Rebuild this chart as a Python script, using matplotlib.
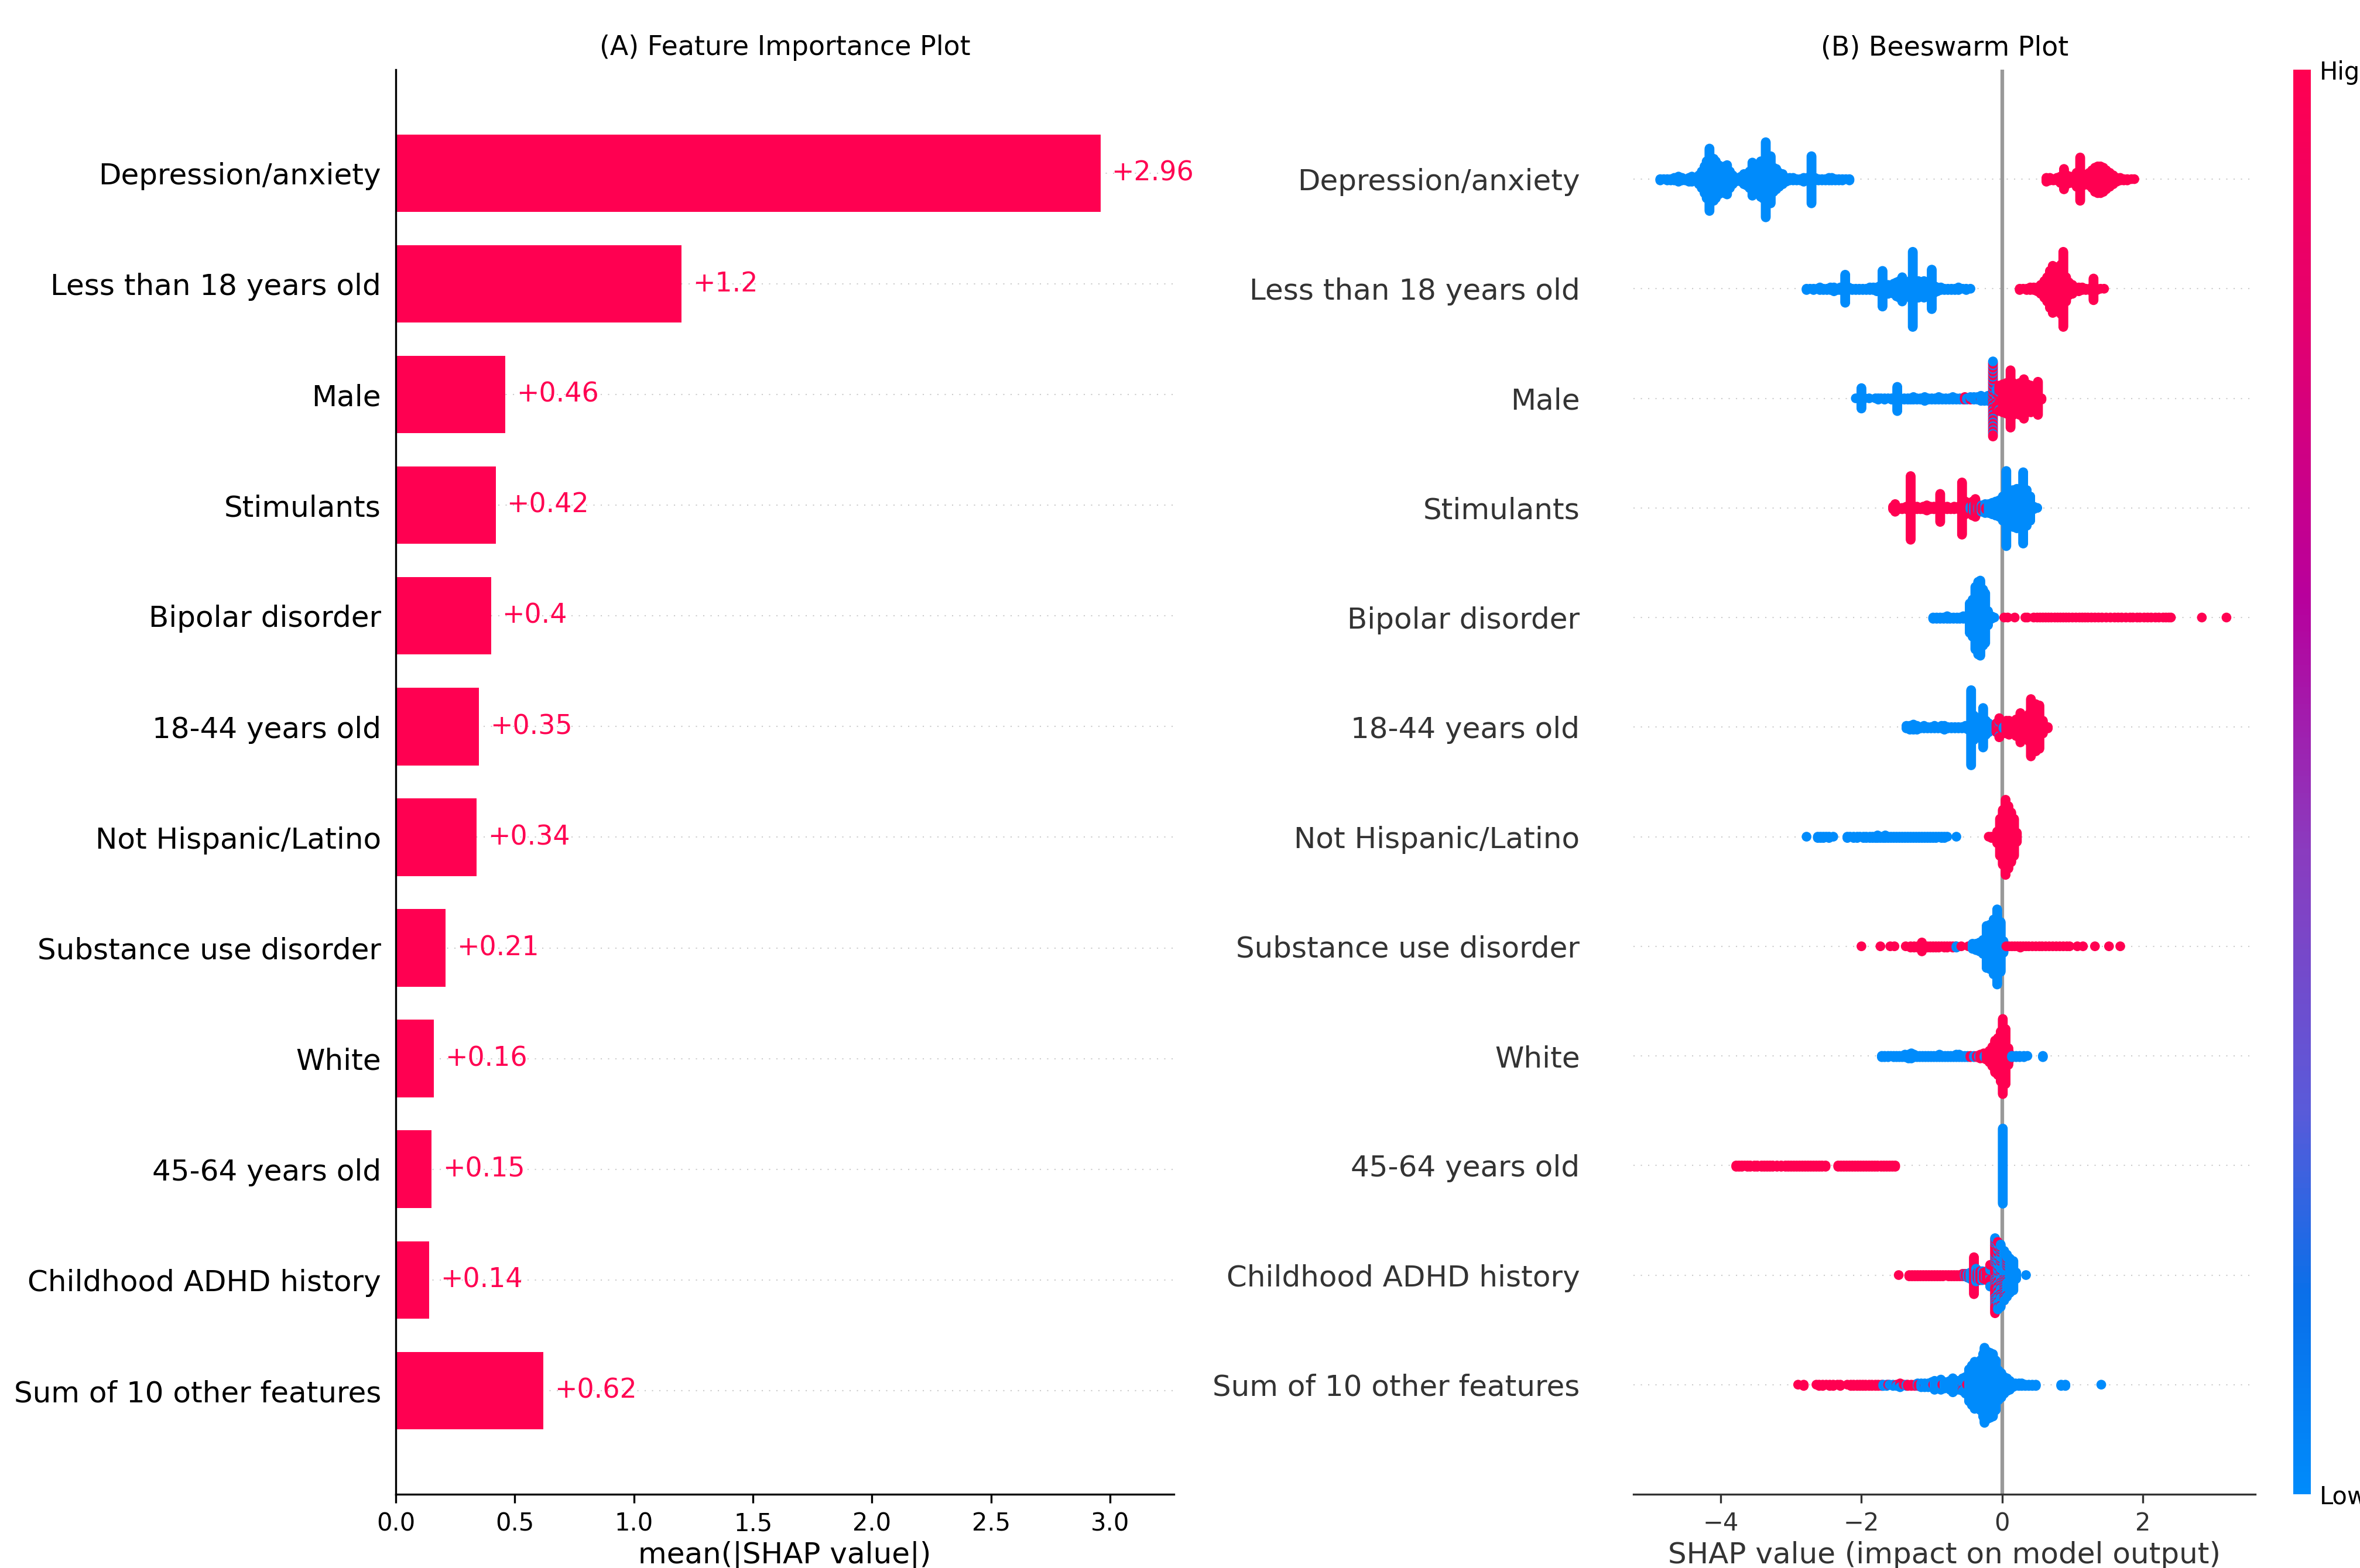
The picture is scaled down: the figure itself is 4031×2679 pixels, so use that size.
import numpy as np
import matplotlib
matplotlib.use("Agg")
import matplotlib.pyplot as plt
from matplotlib.colors import LinearSegmentedColormap, Normalize
from matplotlib.colorbar import ColorbarBase

# ---- data ----
features = ["Depression/anxiety", "Less than 18 years old", "Male", "Stimulants",
            "Bipolar disorder", "18-44 years old", "Not Hispanic/Latino",
            "Substance use disorder", "White", "45-64 years old",
            "Childhood ADHD history", "Sum of 10 other features"]
mean_abs_shap = [2.96, 1.2, 0.46, 0.42, 0.4, 0.35, 0.34, 0.21, 0.16, 0.15, 0.14, 0.62]

# beeswarm columns: (SHAP value, number of stacked points); _hi = high feature value, _lo = low
dep_lo = [(-4.86, 2), (-4.81, 1), (-4.76, 2), (-4.71, 2), (-4.66, 3), (-4.60, 5), (-4.55, 3), (-4.50, 2),
          (-4.45, 4), (-4.41, 5), (-4.36, 3), (-4.31, 8), (-4.27, 14), (-4.23, 22), (-4.20, 30), (-4.16, 50),
          (-4.13, 28), (-4.10, 34), (-4.07, 30), (-4.03, 24), (-3.99, 20), (-3.95, 22), (-3.91, 24), (-3.87, 14),
          (-3.83, 8), (-3.79, 4), (-3.75, 3), (-3.71, 5), (-3.67, 9), (-3.63, 10), (-3.59, 14), (-3.55, 27),
          (-3.51, 18), (-3.47, 22), (-3.43, 29), (-3.40, 30), (-3.36, 60), (-3.32, 34), (-3.29, 38), (-3.25, 20),
          (-3.21, 17), (-3.17, 12), (-3.12, 9), (-3.07, 4), (-3.02, 3), (-2.97, 3), (-2.92, 2), (-2.87, 2),
          (-2.82, 4), (-2.77, 3), (-2.71, 38), (-2.66, 3), (-2.61, 2), (-2.56, 2), (-2.51, 2), (-2.46, 3),
          (-2.42, 3), (-2.37, 2), (-2.32, 2), (-2.27, 2), (-2.22, 1), (-2.17, 2)]
dep_hi = [(0.63, 4), (0.68, 3), (0.73, 2), (0.78, 3), (0.83, 6), (0.88, 17), (0.92, 8), (0.97, 6), (1.02, 5),
          (1.06, 12), (1.11, 35), (1.15, 10), (1.19, 8), (1.24, 11), (1.28, 15), (1.32, 20), (1.36, 22),
          (1.40, 22), (1.44, 20), (1.48, 16), (1.53, 12), (1.58, 8), (1.63, 4), (1.68, 3), (1.73, 2),
          (1.78, 2), (1.84, 1), (1.88, 1)]

u18_lo = [(-2.78, 2), (-2.73, 1), (-2.68, 2), (-2.63, 1), (-2.59, 3), (-2.54, 2), (-2.49, 2), (-2.44, 3),
          (-2.39, 4), (-2.34, 2), (-2.30, 3), (-2.23, 23), (-2.18, 3), (-2.13, 2), (-2.08, 2), (-2.03, 2),
          (-1.98, 2), (-1.93, 2), (-1.88, 3), (-1.83, 3), (-1.78, 4), (-1.74, 5), (-1.70, 29), (-1.66, 8),
          (-1.62, 8), (-1.58, 6), (-1.54, 9), (-1.50, 12), (-1.46, 14), (-1.42, 20), (-1.38, 12), (-1.34, 10),
          (-1.31, 14), (-1.27, 60), (-1.23, 14), (-1.19, 14), (-1.15, 12), (-1.11, 14), (-1.07, 12), (-1.03, 10),
          (-1.00, 32), (-0.96, 6), (-0.92, 4), (-0.87, 3), (-0.82, 2), (-0.77, 2), (-0.72, 2), (-0.67, 2),
          (-0.62, 3), (-0.56, 1), (-0.51, 2), (-0.45, 1)]
u18_hi = [(0.25, 2), (0.30, 1), (0.35, 2), (0.40, 3), (0.45, 3), (0.50, 4), (0.55, 8), (0.60, 14), (0.64, 20),
          (0.68, 30), (0.72, 38), (0.76, 36), (0.80, 30), (0.84, 40), (0.87, 60), (0.91, 20), (0.95, 11),
          (1.00, 8), (1.04, 4), (1.09, 4), (1.14, 3), (1.19, 2), (1.24, 2), (1.30, 18), (1.35, 2), (1.40, 1),
          (1.45, 1)]

male_lo = [(-2.08, 1), (-2.00, 17), (-1.95, 1), (-1.89, 1), (-1.80, 1), (-1.76, 2), (-1.72, 1), (-1.67, 2),
           (-1.62, 1), (-1.57, 2), (-1.49, 20), (-1.44, 2), (-1.39, 2), (-1.34, 2), (-1.30, 2), (-1.26, 3),
           (-1.21, 2), (-1.16, 2), (-1.10, 4), (-1.05, 2), (-1.00, 2), (-0.95, 2), (-0.90, 3), (-0.85, 2),
           (-0.80, 2), (-0.75, 2), (-0.70, 3), (-0.65, 2), (-0.60, 2), (-0.55, 2), (-0.50, 2), (-0.45, 2),
           (-0.40, 3), (-0.35, 3), (-0.30, 4), (-0.25, 4), (-0.20, 5), (-0.13, 20), (-0.08, 6), (-0.04, 3)]
male_hi = [(-0.53, 3), (-0.45, 1), (-0.30, 1), (-0.13, 40), (-0.08, 10), (-0.04, 18), (0.01, 23), (0.06, 25),
           (0.12, 46), (0.16, 26), (0.20, 24), (0.25, 26), (0.31, 32), (0.36, 23), (0.41, 22), (0.46, 18),
           (0.51, 27), (0.56, 2)]

stim_hi = [(-1.55, 3), (-1.52, 7), (-1.47, 2), (-1.42, 2), (-1.36, 3), (-1.30, 51), (-1.25, 3), (-1.21, 3),
           (-1.16, 2), (-1.12, 3), (-1.07, 5), (-1.02, 3), (-0.97, 3), (-0.92, 3), (-0.88, 23), (-0.83, 3),
           (-0.78, 3), (-0.73, 2), (-0.68, 3), (-0.62, 3), (-0.57, 42), (-0.52, 11), (-0.47, 8), (-0.42, 12),
           (-0.38, 15), (-0.33, 6), (-0.28, 4), (-0.23, 2)]
stim_lo = [(-0.45, 3), (-0.40, 6), (-0.34, 4), (-0.29, 6), (-0.24, 8), (-0.19, 8), (-0.14, 10), (-0.09, 12),
           (-0.04, 14), (0.01, 20), (0.06, 60), (0.11, 29), (0.16, 30), (0.21, 32), (0.25, 30), (0.30, 57),
           (0.35, 29), (0.40, 20), (0.45, 3), (0.50, 1)]

bip_lo = [(-0.98, 2), (-0.93, 2), (-0.88, 2), (-0.83, 2), (-0.78, 3), (-0.74, 2), (-0.69, 2), (-0.64, 2),
          (-0.60, 2), (-0.55, 3), (-0.51, 3), (-0.46, 24), (-0.42, 30), (-0.38, 50), (-0.34, 58), (-0.31, 60),
          (-0.27, 45), (-0.24, 40), (-0.20, 12), (-0.15, 3), (-0.11, 1)]
bip_hi = [(0.03, 1), (0.08, 1), (0.18, 1), (0.33, 1), (0.36, 1), (0.45, 1), (0.50, 1), (0.54, 1), (0.58, 1),
          (0.62, 1), (0.66, 1), (0.70, 1), (0.75, 1), (0.79, 1), (0.83, 1), (0.87, 1), (0.91, 1), (0.95, 1),
          (1.00, 1), (1.05, 1), (1.10, 1), (1.14, 1), (1.18, 1), (1.22, 1), (1.27, 1), (1.32, 1), (1.37, 1),
          (1.42, 1), (1.48, 1), (1.54, 1), (1.60, 1), (1.65, 1), (1.70, 1), (1.76, 1), (1.82, 1), (1.86, 1),
          (1.92, 1), (1.96, 1), (2.02, 1), (2.07, 1), (2.12, 1), (2.18, 1), (2.23, 1), (2.29, 1), (2.33, 1),
          (2.37, 1), (2.40, 1), (2.84, 1), (3.19, 1)]

a1844_lo = [(-1.36, 3), (-1.31, 4), (-1.26, 5), (-1.21, 4), (-1.16, 2), (-1.11, 3), (-1.06, 2), (-1.01, 2),
            (-0.96, 3), (-0.91, 2), (-0.86, 3), (-0.82, 4), (-0.77, 2), (-0.72, 2), (-0.67, 2), (-0.62, 2),
            (-0.57, 2), (-0.52, 3), (-0.48, 4), (-0.44, 60), (-0.40, 20), (-0.36, 12), (-0.31, 14), (-0.27, 32),
            (-0.23, 12), (-0.19, 8), (-0.14, 4), (-0.09, 3), (-0.04, 3), (0.02, 2)]
a1844_hi = [(-0.08, 8), (-0.04, 13), (0.01, 10), (0.06, 11), (0.10, 12), (0.15, 10), (0.20, 14), (0.26, 24),
            (0.30, 18), (0.34, 17), (0.38, 22), (0.41, 46), (0.45, 36), (0.48, 38), (0.53, 35), (0.58, 11),
            (0.65, 2)]

nh_lo = [(-2.78, 1), (-2.62, 2), (-2.58, 2), (-2.54, 2), (-2.50, 1), (-2.46, 2), (-2.40, 1), (-2.20, 2),
         (-2.16, 1), (-2.11, 2), (-2.06, 2), (-2.02, 1), (-1.97, 2), (-1.93, 2), (-1.88, 2), (-1.84, 2),
         (-1.80, 2), (-1.77, 3), (-1.73, 2), (-1.69, 2), (-1.66, 3), (-1.62, 2), (-1.58, 2), (-1.54, 2),
         (-1.50, 2), (-1.46, 2), (-1.42, 2), (-1.38, 2), (-1.34, 2), (-1.30, 2), (-1.26, 2), (-1.22, 2),
         (-1.18, 2), (-1.14, 2), (-1.10, 2), (-1.06, 2), (-1.02, 2), (-0.98, 2), (-0.94, 2), (-0.90, 1),
         (-0.86, 2), (-0.82, 2), (-0.78, 1), (-0.65, 1)]
nh_hi = [(-0.19, 1), (-0.15, 2), (-0.11, 2), (-0.07, 10), (-0.03, 30), (0.01, 44), (0.05, 60), (0.09, 50),
         (0.13, 40), (0.17, 30), (0.21, 8)]

sud_hi = [(-2.00, 1), (-1.73, 1), (-1.59, 1), (-1.53, 1), (-1.37, 1), (-1.30, 2), (-1.25, 2), (-1.20, 2),
          (-1.14, 8), (-1.10, 2), (-1.06, 2), (-1.02, 2), (-0.98, 2), (-0.94, 2), (-0.90, 2), (-0.86, 1),
          (-0.82, 2), (-0.78, 2), (-0.74, 1), (-0.70, 2), (-0.66, 1), (-0.58, 1), (-0.48, 1), (0.06, 1),
          (0.10, 1), (0.14, 1), (0.18, 1), (0.22, 1), (0.26, 2), (0.30, 1), (0.34, 1), (0.38, 1), (0.43, 1),
          (0.48, 1), (0.53, 1), (0.57, 1), (0.62, 1), (0.67, 1), (0.72, 1), (0.77, 1), (0.82, 1), (0.87, 1),
          (0.92, 1), (0.96, 1), (1.07, 1), (1.15, 1), (1.32, 1), (1.52, 1), (1.68, 1)]
sud_lo = [(-0.65, 2), (-0.42, 5), (-0.37, 6), (-0.32, 8), (-0.27, 12), (-0.22, 34), (-0.17, 36), (-0.12, 44),
          (-0.07, 60), (-0.02, 40), (0.02, 10)]

white_lo = [(-1.71, 2), (-1.67, 2), (-1.62, 2), (-1.58, 1), (-1.54, 2), (-1.50, 2), (-1.46, 2), (-1.42, 2),
            (-1.38, 3), (-1.33, 4), (-1.29, 5), (-1.25, 3), (-1.21, 2), (-1.17, 2), (-1.13, 2), (-1.09, 2),
            (-1.05, 2), (-1.01, 2), (-0.97, 2), (-0.93, 2), (-0.89, 3), (-0.85, 2), (-0.81, 2), (-0.77, 2),
            (-0.73, 2), (-0.69, 2), (-0.65, 3), (-0.61, 3), (-0.57, 2), (-0.53, 2), (-0.49, 2), (-0.40, 2),
            (-0.33, 2), (-0.25, 2), (0.14, 2), (0.20, 2), (0.25, 2), (0.31, 2), (0.36, 1), (0.58, 2)]
white_hi = [(-0.45, 2), (-0.36, 2), (-0.31, 4), (-0.26, 5), (-0.22, 6), (-0.18, 10), (-0.14, 16), (-0.10, 26),
            (-0.06, 30), (-0.02, 40), (0.01, 60), (0.05, 44), (0.09, 14), (0.12, 4)]

a4564_hi = [(-3.78, 2), (-3.74, 2), (-3.70, 2), (-3.66, 1), (-3.62, 2), (-3.58, 2), (-3.52, 2), (-3.48, 2),
            (-3.42, 2), (-3.38, 2), (-3.34, 2), (-3.30, 2), (-3.26, 2), (-3.20, 2), (-3.14, 2), (-3.08, 2),
            (-3.04, 2), (-3.00, 2), (-2.96, 2), (-2.92, 2), (-2.88, 2), (-2.84, 2), (-2.80, 2), (-2.76, 2),
            (-2.72, 2), (-2.68, 2), (-2.64, 2), (-2.60, 2), (-2.56, 2), (-2.51, 2), (-2.33, 2), (-2.29, 2),
            (-2.25, 2), (-2.21, 2), (-2.17, 2), (-2.13, 2), (-2.09, 2), (-2.05, 2), (-2.01, 2), (-1.97, 2),
            (-1.93, 2), (-1.89, 2), (-1.85, 2), (-1.81, 2), (-1.77, 2), (-1.72, 2), (-1.68, 2), (-1.64, 2),
            (-1.60, 2), (-1.56, 2), (-1.52, 2)]
a4564_lo = [(0.01, 60)]

adhd_hi = [(-1.47, 1), (-1.32, 2), (-1.28, 2), (-1.24, 2), (-1.20, 2), (-1.16, 2), (-1.12, 2), (-1.08, 2),
           (-1.04, 2), (-1.00, 2), (-0.96, 2), (-0.92, 2), (-0.88, 2), (-0.84, 2), (-0.80, 1), (-0.76, 2),
           (-0.72, 2), (-0.68, 2), (-0.64, 2), (-0.60, 2), (-0.56, 3), (-0.52, 3), (-0.47, 4), (-0.40, 30),
           (-0.35, 6), (-0.31, 8), (-0.26, 6), (-0.22, 8), (-0.17, 10), (-0.10, 44), (-0.06, 20), (-0.02, 14),
           (0.03, 10), (0.07, 8)]
adhd_lo = [(-0.53, 3), (-0.49, 4), (-0.45, 6), (-0.41, 8), (-0.37, 11), (-0.33, 8), (-0.28, 8), (-0.23, 6),
           (-0.17, 8), (-0.10, 16), (-0.06, 34), (-0.02, 36), (0.03, 30), (0.07, 26), (0.11, 28), (0.16, 24),
           (0.20, 6), (0.34, 1)]

other_hi = [(-2.90, 1), (-2.82, 2), (-2.64, 1), (-2.60, 2), (-2.55, 2), (-2.50, 1), (-2.45, 2), (-2.40, 2),
            (-2.34, 1), (-2.30, 2), (-2.20, 1), (-2.15, 2), (-2.11, 2), (-2.06, 2), (-2.02, 2), (-1.98, 2),
            (-1.94, 2), (-1.89, 2), (-1.85, 2), (-1.80, 2), (-1.76, 2), (-1.71, 2), (-1.62, 1), (-1.50, 1),
            (-1.45, 2), (-1.40, 1), (-1.34, 2), (-1.29, 2), (-1.24, 2), (-1.19, 2), (-1.10, 1), (-0.98, 1),
            (-0.85, 1), (-0.56, 2), (-0.50, 1)]
other_lo = [(-1.69, 2), (-1.64, 2), (-1.60, 1), (-1.55, 2), (-1.50, 1), (-1.45, 2), (-1.36, 2), (-1.20, 3),
            (-1.15, 4), (-1.10, 3), (-1.05, 4), (-1.00, 5), (-0.96, 8), (-0.91, 6), (-0.87, 9), (-0.82, 6),
            (-0.78, 5), (-0.74, 8), (-0.70, 12), (-0.65, 8), (-0.61, 8), (-0.56, 9), (-0.52, 14), (-0.47, 26),
            (-0.43, 32), (-0.39, 38), (-0.35, 36), (-0.31, 40), (-0.27, 50), (-0.25, 60), (-0.21, 54),
            (-0.17, 52), (-0.13, 50), (-0.09, 40), (-0.05, 24), (-0.01, 20), (0.03, 14), (0.07, 11), (0.11, 8),
            (0.15, 4), (0.19, 3), (0.24, 3), (0.28, 3), (0.33, 2), (0.38, 2), (0.43, 2), (0.48, 2), (0.84, 2),
            (0.90, 2), (1.41, 1)]

swarm_hi = [dep_hi, u18_hi, male_hi, stim_hi, bip_hi, a1844_hi, nh_hi, sud_hi, white_hi, a4564_hi, adhd_hi, other_hi]
swarm_lo = [dep_lo, u18_lo, male_lo, stim_lo, bip_lo, a1844_lo, nh_lo, sud_lo, white_lo, a4564_lo, adhd_lo, other_lo]

RED = "#ff0051"
cmap = LinearSegmentedColormap.from_list("red_blue", [
    (0.0, "#008bfb"), (0.14, "#0a6fe9"), (0.27, "#5a5ad9"), (0.45, "#8a3cbf"),
    (0.63, "#b8009c"), (0.82, "#e3006f"), (1.0, "#ff0051")])


def swarm_layout(hi, lo, row_height=0.4):
    # stack points of each column up/down like shap's beeswarm
    cols = {}
    for x, n in lo:
        cols.setdefault(x, [0, 0])[0] += n
    for x, n in hi:
        cols.setdefault(x, [0, 0])[1] += n
    xs, ys, vals = [], [], []
    for x in sorted(cols):
        n_lo, n_hi = cols[x]
        order = [((i + 0.5) / n_lo, 0.0) for i in range(n_lo)] + [((j + 0.25) / n_hi, 1.0) for j in range(n_hi)]
        order.sort()
        for layer, (_, v) in enumerate(order):
            xs.append(x)
            ys.append(np.ceil(layer / 2) * ((layer % 2) * 2 - 1))
            vals.append(v)
    ys = np.array(ys, dtype=float)
    ys *= 0.9 * (row_height / np.max(ys + 1))
    return np.array(xs), ys, np.array(vals)


W, H = 4031, 2679
fig = plt.figure(figsize=((W + 0.2) / 300, (H + 0.2) / 300), dpi=300)


def box(x0, y0, x1, y1):
    return [x0 / W, 1 - y1 / H, (x1 - x0) / W, (y1 - y0) / H]


# (A) bar plot
ax1 = fig.add_axes(box(676, 119, 2005, 2553))
rows = np.arange(len(features))
ax1.barh(rows, mean_abs_shap, 0.7, color=RED)
for i, v in enumerate(mean_abs_shap):
    ax1.axhline(i, color="#cccccc", lw=0.5, dashes=(1, 5), zorder=-1)
    txt = "+" + f"{v:.2f}".rstrip("0").rstrip(".")
    ax1.annotate(txt, (v, i), xytext=(4.5, 0), textcoords="offset points",
                 ha="left", va="center", color=RED, fontsize=11)
ax1.set_yticks(rows)
ax1.set_yticklabels(features, fontsize=12)
ax1.tick_params("y", length=0, pad=6)
ax1.tick_params("x", labelsize=10)
ax1.set_xticks([0.0, 0.5, 1.0, 1.5, 2.0, 2.5, 3.0])
ax1.set_xlim(0, 3.268)
ax1.set_ylim(11.937, -0.937)
ax1.spines["top"].set_visible(False)
ax1.spines["right"].set_visible(False)
ax1.set_xlabel("mean(|SHAP value|)", fontsize=12, labelpad=2)
ax1.set_title("(A) Feature Importance Plot", fontsize=11)

# (B) beeswarm
ax2 = fig.add_axes(box(2790, 119, 3852, 2553))
ax2.axvline(0, color="#999999", zorder=-1)
for i in rows:
    ax2.axhline(i, color="#cccccc", lw=0.5, dashes=(1, 5), zorder=-1)
    xs, ys, vals = swarm_layout(swarm_hi[i], swarm_lo[i])
    ax2.scatter(xs, i + ys, c=vals, cmap=cmap, vmin=0, vmax=1, s=16, linewidths=0, zorder=3)
ax2.set_yticks(rows)
ax2.set_yticklabels(features, fontsize=12, color="#333333")
ax2.tick_params("y", length=0, pad=22)
ax2.tick_params("x", labelsize=10, colors="#333333")
ax2.set_xticks([-4, -2, 0, 2])
ax2.set_xlim(-5.24, 3.60)
ax2.set_ylim(12, -1)
for s in ["top", "right", "left"]:
    ax2.spines[s].set_visible(False)
ax2.spines["bottom"].set_color("#333333")
ax2.set_xlabel("SHAP value (impact on model output)", fontsize=12, color="#333333", labelpad=2)
ax2.set_title("(B) Beeswarm Plot", fontsize=11)

# colour bar
cax = fig.add_axes(box(3917, 119, 3947, 2553))
cb = ColorbarBase(cax, cmap=cmap, norm=Normalize(0, 1), ticks=[0, 1])
cb.set_ticklabels(["Low", "High"])
cax.tick_params(length=0, labelsize=10)
cb.outline.set_visible(False)

fig.savefig("out.png", dpi=300)
